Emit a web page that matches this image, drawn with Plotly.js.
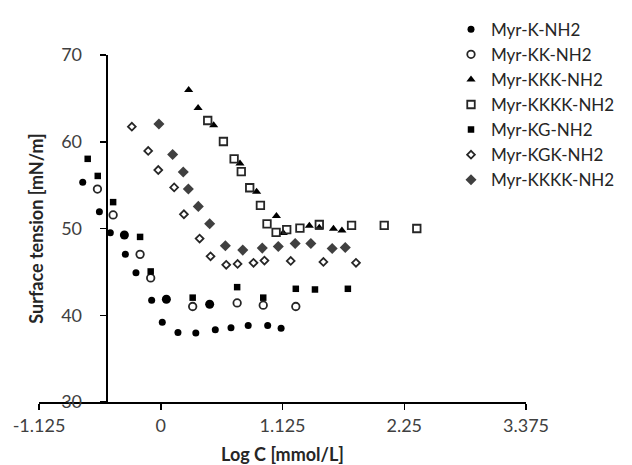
<!DOCTYPE html>
<html>
<head>
<meta charset="utf-8">
<script src="https://cdn.plot.ly/plotly-3.0.1.min.js"></script>
<style>html,body{margin:0;padding:0;background:#fff;}#chart{width:632px;height:465px;}</style>
</head>
<body>
<div id="chart"></div>
<script>
// ---- data ----
const kX = [-0.721,-0.567,-0.466,-0.327,-0.229,-0.084,0.014,0.159,0.324,0.504,0.649,0.808,0.988,1.112];
const kY = [55.34,51.93,49.52,47.02,44.90,41.72,39.19,38.02,37.94,38.32,38.55,38.81,38.81,38.51];

const kBigX = [-0.336,0.052,0.452];
const kBigY = [49.25,41.84,41.27];

const kkX = [-0.585,-0.440,-0.191,-0.093,0.295,0.706,0.947,1.248];
const kkY = [54.55,51.56,47.02,44.30,41.01,41.42,41.16,41.01];

const kkkX = [0.258,0.345,0.489,0.732,0.886,1.069,1.132,1.373,1.465,1.596,1.674];
const kkkY = [65.97,63.89,61.89,57.50,54.25,51.45,49.48,50.31,50.09,49.97,49.78];

const kkkkSqX = [0.434,0.579,0.678,0.744,0.822,0.921,0.982,1.066,1.164,1.286,1.465,1.763,2.065,2.366];
const kkkkSqY = [62.45,60.03,58.03,56.55,54.70,52.66,50.54,49.55,49.86,50.05,50.46,50.35,50.35,50.00];

const kgX = [-0.675,-0.582,-0.440,-0.191,-0.093,0.295,0.706,0.947,1.248,1.425,1.729];
const kgY = [58.03,56.06,53.04,49.03,45.05,42.03,43.24,42.03,43.05,42.97,43.05];

const kgkX = [-0.267,-0.116,-0.023,0.124,0.214,0.359,0.460,0.605,0.710,0.857,0.958,1.201,1.503,1.804];
const kgkY = [61.74,58.94,56.74,54.74,51.64,48.84,46.79,45.81,45.92,46.04,46.30,46.26,46.15,46.04];

const kkkkDiX = [-0.017,0.110,0.208,0.255,0.347,0.452,0.597,0.758,0.938,1.086,1.242,1.387,1.584,1.705];
const kkkkDiY = [62.04,58.52,56.52,54.55,52.55,50.54,48.01,47.51,47.74,47.93,48.27,48.27,47.70,47.82];

const seriesNames = ["Myr-K-NH2","Myr-KK-NH2","Myr-KKK-NH2","Myr-KKKK-NH2","Myr-KG-NH2","Myr-KGK-NH2","Myr-KKKK-NH2"];

const xTickVals = [-1.125, 0, 1.125, 2.25, 3.375];
const xTickText = ["-1.125", "0", "1.125", "2.25", "3.375"];
const yTickVals = [30, 40, 50, 60, 70];
const yTickText = ["30", "40", "50", "60", "70"];
const xTitle = "Log C [mmol/L]";
const yTitle = "Surface tension [mN/m]";

// ---- chart ----
const FONT = "Lato, 'Open Sans', sans-serif";
const dark = "#262626";
function tr(x, y, name, marker, showlegend) {
  return {x: x, y: y, name: name, type: "scatter", mode: "markers", marker: marker,
          showlegend: showlegend !== false, hoverinfo: "x+y"};
}
const traces = [
  tr(kX, kY, seriesNames[0], {symbol: "circle", size: 7, color: "#000"}),
  tr(kkX, kkY, seriesNames[1], {symbol: "circle-open", size: 7.5, color: dark, line: {width: 1.8, color: dark}}),
  tr(kkkX, kkkY, seriesNames[2], {symbol: "triangle-up", size: 8, color: "#000"}),
  tr(kkkkSqX, kkkkSqY, seriesNames[3], {symbol: "square-open", size: 7.5, color: dark, line: {width: 1.8, color: dark}}),
  tr(kgX, kgY, seriesNames[4], {symbol: "square", size: 6.5, color: "#000"}),
  tr(kgkX, kgkY, seriesNames[5], {symbol: "diamond-open", size: 6, color: dark, line: {width: 1.8, color: dark}}),
  tr(kkkkDiX, kkkkDiY, seriesNames[6], {symbol: "diamond", size: 8.5, color: "#404040"}),
  tr(kBigX, kBigY, "", {symbol: "circle", size: 9, color: "#000"}, false)
];

const layout = {
  width: 632, height: 465,
  margin: {l: 39, r: 75, t: 50, b: 63},
  paper_bgcolor: "#fff", plot_bgcolor: "#fff",
  font: {family: FONT, size: 18, color: "#404040"},
  showlegend: true,
  legend: {
    x: 0.846, y: 1.125, xanchor: "left", yanchor: "top",
    font: {family: FONT, size: 17, color: dark},
    bgcolor: "rgba(0,0,0,0)", borderwidth: 0, tracegroupgap: 0
  },
  xaxis: {
    range: [-1.125, 3.375], showgrid: false, zeroline: false,
    showline: true, linecolor: "#000", linewidth: 2,
    ticks: "outside", ticklen: 6, tickwidth: 1.5, tickcolor: "#000",
    tickvals: xTickVals, ticktext: xTickText,
    tickfont: {family: FONT, size: 18, color: "#404040"},
    title: {text: xTitle, font: {family: FONT, size: 18, color: dark, weight: "bold"}, standoff: 21}
  },
  yaxis: {
    range: [30, 70], showgrid: false, zeroline: false,
    anchor: "free", position: 0.1389,
    showline: true, linecolor: "#000", linewidth: 2,
    ticks: "outside", ticklen: 6, tickwidth: 1.5, tickcolor: "#000",
    tickvals: yTickVals, ticktext: yTickText,
    ticklabelstandoff: 14,
    tickfont: {family: FONT, size: 18, color: "#404040"},
    title: {text: yTitle, font: {family: FONT, size: 18, color: dark, weight: "bold"}, standoff: 12}
  }
};

Plotly.newPlot("chart", traces, layout, {displayModeBar: false, staticPlot: true});
</script>
</body>
</html>
